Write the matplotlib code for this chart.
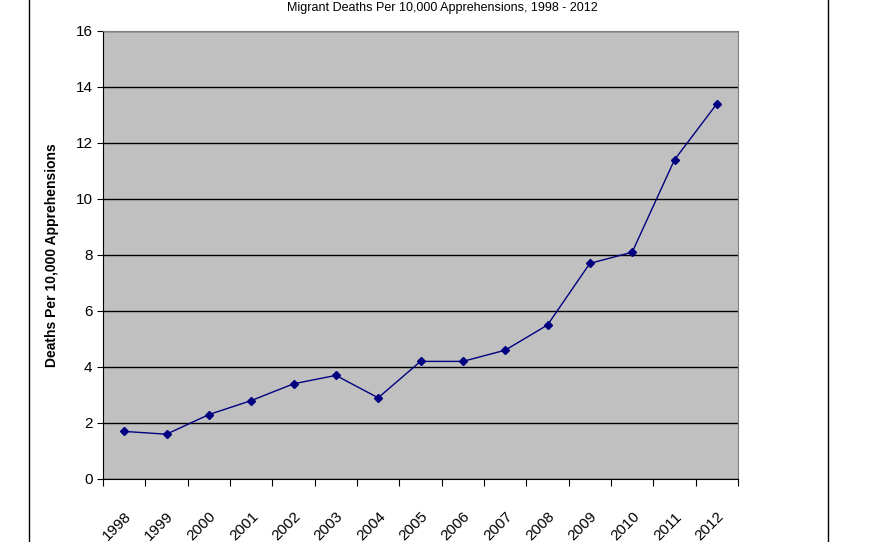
import matplotlib.pyplot as plt
from matplotlib.patches import Rectangle

years = [str(y) for y in range(1998, 2013)]
deaths = [1.7, 1.6, 2.3, 2.8, 3.4, 3.7, 2.9, 4.2, 4.2, 4.6, 5.5, 7.7, 8.1, 11.4, 13.4]

plt.rcParams['font.family'] = ['Liberation Sans', 'DejaVu Sans']

fig = plt.figure(figsize=(8.8, 5.42), dpi=100)
fig.patches.append(Rectangle((29 / 880, -0.1), (828 - 29) / 880, 1.2, transform=fig.transFigure,
                             fill=False, edgecolor='black', linewidth=1))
fig.text(0.503, 0.997, 'Migrant Deaths Per 10,000 Apprehensions, 1998 - 2012', ha='center', va='top',
         fontsize=9)

ax = fig.add_axes([103 / 880, 1 - 479 / 542, 635 / 880, 448 / 542])
ax.set_facecolor('#c0c0c0')
x = [i + 0.5 for i in range(len(years))]
ax.plot(x, deaths, color='#000080', marker='D', markersize=4.5, linewidth=1)

ax.set_xlim(0, len(years))
ax.set_ylim(0, 16)
ax.set_yticks(range(0, 17, 2))
ax.set_xticks(range(len(years) + 1))
ax.set_xticklabels([])
ax.set_xticks(x, minor=True)
ax.set_xticklabels(years, minor=True, rotation=45, ha='right', rotation_mode='anchor', fontsize=11)
ax.tick_params(axis='x', which='minor', length=0, pad=22)
ax.tick_params(axis='x', which='major', direction='out', length=5)
ax.tick_params(axis='y', direction='out', length=4, labelsize=11)
ax.yaxis.grid(True, color='black', linewidth=1)
ax.set_axisbelow(True)
for s in ['top', 'right']:
    ax.spines[s].set_color('#808080')
ax.set_ylabel('Deaths Per 10,000 Apprehensions', fontsize=10, fontweight='bold', labelpad=12)

fig.savefig('out.png', dpi=100)
